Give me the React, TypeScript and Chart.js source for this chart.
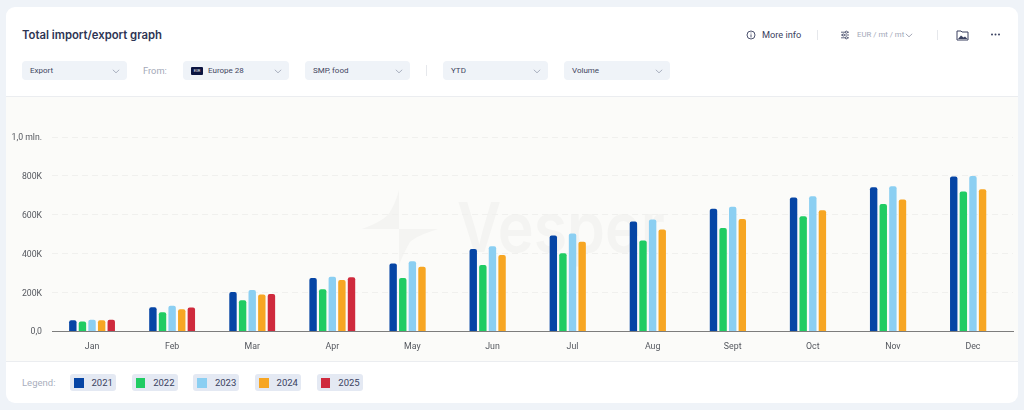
import React, { useEffect, useRef } from "react";
import { Chart, registerables } from "chart.js";

Chart.register(...registerables);

const months = ["Jan", "Feb", "Mar", "Apr", "May", "Jun", "Jul", "Aug", "Sept", "Oct", "Nov", "Dec"];
const s2021 = [58000, 125000, 203000, 275000, 350000, 424000, 494000, 566000, 631000, 689000, 742000, 797000];
const s2022 = [51000, 99000, 161000, 217000, 275000, 342000, 402000, 468000, 532000, 593000, 655000, 720000];
const s2023 = [61000, 132000, 214000, 282000, 361000, 438000, 504000, 576000, 641000, 696000, 747000, 800000];
const s2024 = [58000, 115000, 190000, 265000, 333000, 393000, 462000, 525000, 579000, 624000, 679000, 732000];
const s2025 = [61000, 123000, 193000, 279000, null, null, null, null, null, null, null, null];
const yTicks: Record<number, string> = { 0: "0,0", 200000: "200K", 400000: "400K", 600000: "600K", 800000: "800K", 1000000: "1,0 mln." };

const legendYears = ["2021", "2022", "2023", "2024", "2025"];
const colors = ["#0645a5", "#20cc63", "#8bcff2", "#f7a623", "#cf2a3d"];
const seriesList = [s2021, s2022, s2023, s2024, s2025];

const INK = "#3a4160";
const FONT = "Roboto, sans-serif";

function Chevron({ x, y, color = "#8d94a8" }: { x: number; y: number; color?: string }) {
  return (
    <svg style={{ position: "absolute", left: x, top: y }} width="8" height="5" viewBox="0 0 8 5">
      <path d="M0.8 0.8 L4 3.8 L7.2 0.8" fill="none" stroke={color} strokeWidth="0.7" />
    </svg>
  );
}

function Select({ x, w, label, textX = 8 }: { x: number; w: number; label: string; textX?: number }) {
  return (
    <div style={{ position: "absolute", left: x, top: 61, width: w, height: 19, background: "#eff3f8", borderRadius: 4 }}>
      <span style={{ position: "absolute", left: textX, top: 0, lineHeight: "20px", fontSize: 8, color: "#3f4660", fontFamily: FONT, whiteSpace: "nowrap" }}>{label}</span>
      <Chevron x={w - 15} y={8} />
    </div>
  );
}

function Divider({ x, top, h }: { x: number; top: number; h: number }) {
  return <div style={{ position: "absolute", left: x, top, width: 1, height: h, background: "#e6e8ec" }} />;
}

export default function App() {
  const ref = useRef<HTMLCanvasElement>(null);
  useEffect(() => {
    const chart = new Chart(ref.current!, {
      type: "bar",
      data: {
        labels: months,
        datasets: seriesList.map((data, i) => ({
          label: legendYears[i],
          data,
          backgroundColor: colors[i],
          borderRadius: { topLeft: 2, topRight: 2, bottomLeft: 0, bottomRight: 0 },
          borderSkipped: false,
          categoryPercentage: 0.6,
          barPercentage: 0.77,
        })),
      },
      options: {
        animation: false,
        responsive: false,
        devicePixelRatio: 1,
        layout: { padding: { top: 40, right: 11, left: 0, bottom: 0 } },
        plugins: { legend: { display: false }, tooltip: { enabled: false } },
        scales: {
          x: {
            afterFit: (s: any) => { s.height = 29.5; },
            grid: { display: false },
            border: { color: "#7d7d7d", width: 1 },
            ticks: { color: "#55585f", font: { family: FONT, size: 8.8 }, padding: 2, maxRotation: 0 },
          },
          y: {
            min: 0,
            max: 1000000,
            afterFit: (s: any) => { s.width = 52; },
            border: { display: false, dash: [6, 4] },
            grid: { color: (c: any) => (c.tick.value === 0 ? "transparent" : "#f0f0ee"), drawTicks: false, lineWidth: 1 },
            ticks: {
              stepSize: 200000,
              padding: 10,
              labelOffset: 0.8,
              color: "#55585f",
              font: { family: FONT, size: 8.7 },
              callback: (v: any) => yTicks[v as number] ?? "",
            },
          },
        },
      } as any,
    });
    return () => chart.destroy();
  }, []);

  return (
    <div style={{ position: "fixed", left: 0, top: 0, width: 1024, height: 410, background: "#eff3f8", overflow: "hidden", fontFamily: FONT }}>
      <div style={{ position: "absolute", left: 6, top: 7, width: 1012, height: 396, background: "#fff", borderRadius: 9, overflow: "hidden" }} />
      <div style={{ position: "absolute", left: 22, top: 26, fontFamily: "Inter, sans-serif", fontWeight: 600, fontSize: 11.3, lineHeight: "18px", color: "#2e3554", whiteSpace: "nowrap" }}>Total import/export graph</div>

      <Select x={22} w={105} label="Export" />
      <span style={{ position: "absolute", left: 143, top: 61, lineHeight: "20px", fontSize: 9.3, color: "#a3a8b8" }}>From:</span>
      <Select x={183} w={106} label="Europe 28" textX={25} />
      <div style={{ position: "absolute", left: 191, top: 67, width: 12, height: 8, background: "#0b1440", borderRadius: 1, color: "#fff", fontSize: 3.5, lineHeight: "8px", textAlign: "center" }}>EUR</div>
      <Select x={305} w={105} label="SMP, food" />
      <Divider x={426} top={65} h={11} />
      <Select x={443} w={105} label="YTD" />
      <Select x={564} w={106} label="Volume" />

      <svg style={{ position: "absolute", left: 746, top: 30 }} width="10" height="10" viewBox="0 0 10 10">
        <circle cx="5" cy="5" r="4" fill="none" stroke={INK} strokeWidth="0.9" />
        <path d="M5 4.4 V7.4 M5 2.6 V3.4" stroke={INK} strokeWidth="0.9" />
      </svg>
      <span style={{ position: "absolute", left: 762, top: 26, lineHeight: "17px", fontSize: 9.2, color: INK }}>More info</span>
      <Divider x={817} top={30} h={10} />
      <svg style={{ position: "absolute", left: 840, top: 30 }} width="10" height="10" viewBox="0 0 10 10">
        <path d="M1 2.2 H9 M1 5 H9 M1 7.8 H9" stroke={INK} strokeWidth="0.8" />
        <circle cx="6.4" cy="2.2" r="1.1" fill="#fff" stroke={INK} strokeWidth="0.8" />
        <circle cx="3.4" cy="5" r="1.1" fill="#fff" stroke={INK} strokeWidth="0.8" />
        <circle cx="6.4" cy="7.8" r="1.1" fill="#fff" stroke={INK} strokeWidth="0.8" />
      </svg>
      <span style={{ position: "absolute", left: 857, top: 26, lineHeight: "17px", fontSize: 7.8, color: "#a3a8b8", whiteSpace: "nowrap" }}>EUR / mt / mt</span>
      <Chevron x={905} y={33} color="#7d8398" />
      <Divider x={937} top={30} h={10} />
      <svg style={{ position: "absolute", left: 956, top: 29 }} width="13" height="12" viewBox="0 0 13 12">
        <path d="M1 2 H5 L6 3 H12 V11 H1 Z" fill="none" stroke={INK} strokeWidth="1" />
        <path d="M2 10 L5 6.5 L7.5 8.5 L9 7.5 L11.5 10 Z" fill={INK} />
      </svg>
      <svg style={{ position: "absolute", left: 990, top: 32 }} width="11" height="5" viewBox="0 0 11 5">
        <circle cx="2" cy="2.5" r="1" fill={INK} />
        <circle cx="5.5" cy="2.5" r="1" fill={INK} />
        <circle cx="9" cy="2.5" r="1" fill={INK} />
      </svg>

      <div style={{ position: "absolute", left: 6, top: 96, width: 1012, height: 266, background: "#fbfbf9", borderTop: "1px solid #ebedf0", borderBottom: "1px solid #ebedf0", boxSizing: "border-box" }} />
      <svg style={{ position: "absolute", left: 350, top: 180 }} width="330" height="110" viewBox="0 0 330 110">
        <path d="M49 10 V49 H12 Q36 40 40 32 Q46 22 49 10 Z" fill="#f4f4f2" />
        <path d="M88 49 H49 V85 Q55 70 60 62 Q66 56 88 49 Z" fill="#f4f4f2" />
        <text x="107" y="72" textLength="208" lengthAdjust="spacingAndGlyphs" fontFamily="Inter, sans-serif" fontWeight="600" fontSize="69" fill="#f4f4f2">Vesper</text>
      </svg>
      <canvas ref={ref} width={1024} height={264} style={{ position: "absolute", left: 0, top: 97, width: 1024, height: 264 }} />

      <span style={{ position: "absolute", left: 22, top: 374, lineHeight: "17px", fontSize: 9.5, color: "#a9aebd" }}>Legend:</span>
      {legendYears.map((year, i) => (
        <div key={year} style={{ position: "absolute", left: 70 + i * 61.7, top: 374, width: 46, height: 17, background: "#e4e9f3", borderRadius: 3 }}>
          <div style={{ position: "absolute", left: 4, top: 4, width: 9.5, height: 9.5, background: colors[i] }} />
          <span style={{ position: "absolute", left: 21.5, top: 0, lineHeight: "17px", fontSize: 9.5, color: INK }}>{year}</span>
        </div>
      ))}
    </div>
  );
}
